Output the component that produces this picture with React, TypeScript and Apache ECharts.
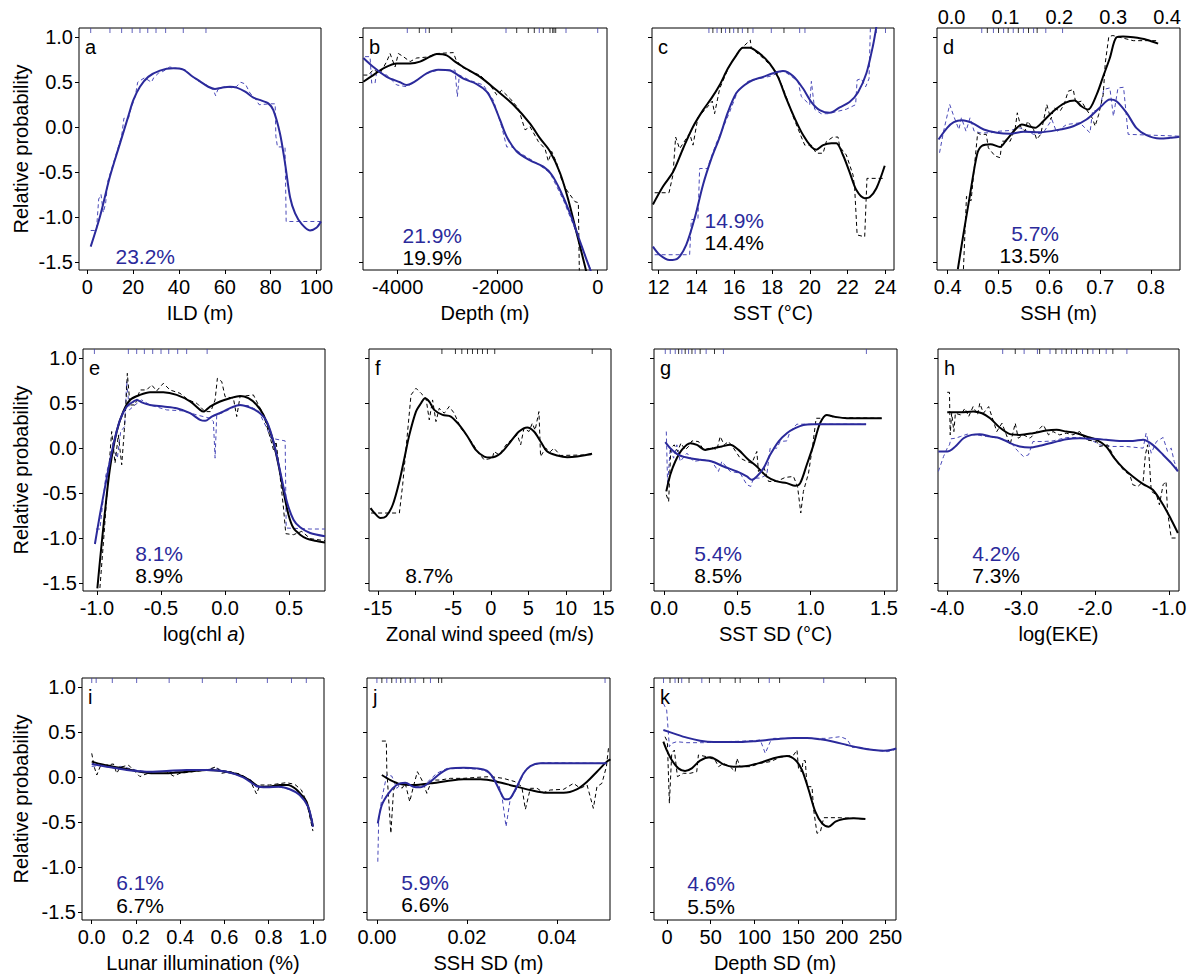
import React, { useEffect, useRef } from "react";
import * as echarts from "echarts";

const FONT = '"Liberation Sans", Arial, Helvetica, sans-serif';
const BLUE = "#2b2a9b";
const BLUE_DASH = "#4a4ab8";
const RUG_BLUE = "#3c3caa";
const BLACK = "#000000";

// ---------- tick values ----------
const yTicks = [-1.5, -1, -0.5, 0, 0.5, 1];
const aTicks = [0, 20, 40, 60, 80, 100];
const bTicks = [-4000, -2000, 0];
const cTicks = [12, 14, 16, 18, 20, 22, 24];
const dTicks = [0.4, 0.5, 0.6, 0.7, 0.8];
const dTopLabels = [0, 0.1, 0.2, 0.3, 0.4];
const eTicks = [-1, -0.5, 0, 0.5];
const fTicks = [-15, -10, -5, 0, 5, 10, 15];
const fLabels = [-15, -5, 0, 5, 10, 15];
const gTicks = [0, 0.5, 1, 1.5];
const hTicks = [-4, -3, -2, -1];
const iTicks = [0, 0.2, 0.4, 0.6, 0.8, 1];
const jTicks = [0, 0.02, 0.04];
const kTicks = [0, 50, 100, 150, 200, 250];

// ---------- a: ILD ----------
const aBlue = [[1.5,-1.33],[5.5,-1.0],[9.9,-0.55],[14.3,-0.18],[17.9,0.12],[20.1,0.3],[23,0.45],[26.6,0.56],[31.7,0.63],[37.6,0.655],[41.9,0.64],[45.6,0.57],[49.2,0.51],[52.8,0.45],[55.7,0.425],[58.7,0.44],[62.3,0.45],[65.2,0.44],[68.9,0.395],[72.5,0.33],[76.1,0.295],[79,0.265],[81.2,0.19],[84.1,-0.07],[86.3,-0.4],[88.5,-0.78],[90.7,-0.96],[93.6,-1.08],[97.2,-1.15],[100,-1.12],[102,-1.05]];
const aBlueDash = [[1.5,-1.15],[4,-1.15],[5,-0.8],[6,-0.75],[7,-0.95],[8,-0.85],[9,-0.6],[12,-0.35],[15,-0.1],[16,0.1],[18,0.1],[19,0.2],[21,0.35],[22,0.5],[25,0.55],[28,0.5],[29,0.55],[31,0.6],[33,0.62],[36,0.67],[40,0.65],[43,0.64],[45,0.58],[48,0.52],[52,0.47],[55,0.42],[56,0.35],[57,0.42],[60,0.45],[63,0.44],[65,0.45],[67,0.5],[69,0.48],[71,0.38],[73,0.33],[75,0.25],[80,0.26],[82,0.26],[82.3,-0.1],[83,-0.22],[86.3,-0.22],[86.8,-1.05],[102,-1.05]];
const aRugBlue = [1.5, 9.9, 15.0, 19.6, 23.0, 26.4, 30.0, 34.2, 41.9, 51.8];

// ---------- b: Depth ----------
const bBlack = [[-4687,0.506],[-4487,0.58],[-4287,0.655],[-4020,0.71],[-3753,0.71],[-3553,0.73],[-3353,0.785],[-3220,0.815],[-3020,0.8],[-2853,0.73],[-2687,0.67],[-2353,0.56],[-2020,0.41],[-1687,0.25],[-1353,0.04],[-1153,-0.125],[-953,-0.27],[-753,-0.51],[-587,-0.81],[-420,-1.18],[-253,-1.55],[-220,-1.63]];
const bBlackDash = [[-4687,0.58],[-4587,0.58],[-4487,0.64],[-4353,0.6],[-4220,0.73],[-4153,0.82],[-4053,0.67],[-3987,0.82],[-3887,0.785],[-3753,0.73],[-3620,0.77],[-3420,0.78],[-3220,0.82],[-2887,0.83],[-2833,0.75],[-2720,0.67],[-2553,0.62],[-2353,0.58],[-2153,0.47],[-2020,0.36],[-1920,0.41],[-1753,0.32],[-1587,0.21],[-1453,-0.03],[-1353,0.005],[-1187,-0.16],[-1053,-0.24],[-987,-0.38],[-920,-0.27],[-820,-0.4],[-720,-0.59],[-620,-0.7],[-453,-0.83],[-387,-0.84],[-367,-1.62]];
const bBlue = [[-4687,0.77],[-4487,0.67],[-4220,0.56],[-3953,0.5],[-3820,0.47],[-3653,0.51],[-3420,0.6],[-3187,0.64],[-2953,0.63],[-2687,0.54],[-2420,0.48],[-2220,0.395],[-2087,0.265],[-1953,0.08],[-1820,-0.106],[-1620,-0.27],[-1353,-0.37],[-1087,-0.44],[-920,-0.53],[-753,-0.7],[-553,-0.96],[-387,-1.22],[-220,-1.48],[-120,-1.63]];
const bBlueDash = [[-4653,0.785],[-4553,0.785],[-4520,0.49],[-4453,0.49],[-4420,0.62],[-4220,0.58],[-4020,0.47],[-3820,0.45],[-3653,0.51],[-3420,0.6],[-3153,0.64],[-2853,0.635],[-2807,0.34],[-2767,0.58],[-2553,0.52],[-2287,0.47],[-2087,0.3],[-1920,0.005],[-1820,-0.22],[-1720,-0.22],[-1487,-0.31],[-1220,-0.4],[-953,-0.51],[-687,-0.81],[-420,-1.18],[-153,-1.57]];
const bRugBlue = [-3808, -3440, -1834, -1168, -634, 0];
const bRugBlack = [-3568, -3368, -2920, -1620, -1388, -1268, -1088, -954, -900, -874, -840];

// ---------- c: SST ----------
const cBlack = [[11.7,-0.86],[12.23,-0.66],[12.76,-0.5],[13.29,-0.24],[13.82,0.005],[14.35,0.19],[14.79,0.32],[15.23,0.47],[15.67,0.655],[16.11,0.8],[16.46,0.885],[16.81,0.885],[17.34,0.82],[17.87,0.71],[18.31,0.56],[18.75,0.32],[19.2,0.098],[19.64,-0.088],[20.08,-0.22],[20.34,-0.25],[20.7,-0.2],[21.14,-0.18],[21.4,-0.18],[21.75,-0.31],[22.1,-0.5],[22.46,-0.7],[22.9,-0.79],[23.16,-0.78],[23.52,-0.68],[23.96,-0.43]];
const cBlackDash = [[11.79,-0.73],[12.55,-0.73],[12.76,-0.53],[12.9,-0.11],[13.11,-0.24],[13.64,-0.07],[13.82,-0.2],[14.08,0.11],[14.52,0.21],[14.84,0.29],[14.96,0.15],[15.23,0.43],[15.76,0.69],[16.29,0.86],[16.85,0.97],[16.9,0.88],[17.52,0.77],[18.23,0.62],[18.58,0.43],[18.75,0.34],[19.11,0.12],[19.55,-0.11],[19.73,-0.2],[20.08,-0.2],[20.34,-0.29],[20.7,-0.29],[20.87,-0.16],[21.22,-0.11],[21.49,-0.11],[21.58,-0.22],[21.93,-0.31],[22.28,-0.53],[22.37,-0.68],[22.5,-1.2],[22.9,-1.22],[23.02,-0.57],[23.96,-0.57]];
const cBlue = [[11.7,-1.33],[12.05,-1.42],[12.58,-1.48],[13.02,-1.46],[13.46,-1.31],[13.9,-1.02],[14.35,-0.64],[14.79,-0.35],[15.23,-0.11],[15.67,0.17],[16.11,0.38],[16.55,0.47],[16.99,0.525],[17.52,0.56],[18.05,0.6],[18.58,0.625],[19.11,0.57],[19.64,0.43],[20.08,0.28],[20.52,0.19],[21.05,0.16],[21.58,0.22],[22.1,0.28],[22.55,0.39],[22.99,0.6],[23.34,0.91],[23.52,1.12]];
const cBlueDash = [[11.79,-1.42],[13.64,-1.42],[13.73,-1.03],[14.08,-1.02],[14.17,-0.46],[14.61,-0.46],[14.7,-0.38],[15.05,-0.18],[15.4,-0.01],[15.76,0.17],[16.2,0.41],[16.73,0.51],[17.34,0.54],[17.96,0.57],[18.58,0.63],[18.93,0.58],[19.37,0.51],[19.55,0.34],[19.99,0.25],[20.08,0.51],[20.25,0.2],[20.6,0.15],[20.96,0.15],[21.93,0.2],[22.42,0.25],[22.5,0.525],[22.72,0.54],[22.95,0.45],[23.13,0.54],[23.2,1.1]];
const cRugBlue = [14.66, 15.09, 15.54, 15.97, 16.43, 16.99, 17.96, 19.46, 19.74, 23.52, 24.0];
const cRugBlack = [14.87, 15.32, 15.76, 16.2, 16.72, 18.63];

// ---------- d: SSH ----------
const dBlack = [[0.42,-1.58],[0.431,-1.19],[0.444,-0.75],[0.458,-0.3],[0.467,-0.21],[0.484,-0.19],[0.503,-0.22],[0.516,-0.14],[0.533,-0.026],[0.546,0.03],[0.559,0.01],[0.572,-0.007],[0.588,0.067],[0.608,0.178],[0.631,0.27],[0.65,0.296],[0.663,0.233],[0.676,0.196],[0.693,0.363],[0.706,0.567],[0.719,0.77],[0.732,1.0],[0.745,1.01],[0.765,1.0],[0.791,0.974],[0.814,0.93]];
const dBlackDash = [[0.431,-1.58],[0.437,-0.77],[0.446,-0.82],[0.459,-0.063],[0.464,-0.08],[0.476,-0.08],[0.48,-0.23],[0.493,-0.32],[0.503,-0.34],[0.507,-0.156],[0.523,-0.156],[0.533,-0.007],[0.537,0.16],[0.544,0.0],[0.552,-0.044],[0.557,0.067],[0.569,-0.026],[0.575,-0.137],[0.583,-0.08],[0.595,0.252],[0.603,0.085],[0.609,0.215],[0.621,0.178],[0.629,0.252],[0.637,0.4],[0.647,0.42],[0.652,0.27],[0.663,0.29],[0.673,0.196],[0.685,0.096],[0.69,0.011],[0.697,0.14],[0.706,0.363],[0.71,0.715],[0.717,1.01],[0.725,1.02],[0.765,0.963],[0.81,0.963]];
const dBlue = [[0.382,-0.137],[0.399,-0.007],[0.412,0.056],[0.428,0.078],[0.448,0.048],[0.471,-0.026],[0.497,-0.063],[0.523,-0.074],[0.549,-0.052],[0.582,-0.056],[0.614,-0.033],[0.647,0.011],[0.673,0.085],[0.699,0.215],[0.719,0.307],[0.732,0.289],[0.752,0.159],[0.771,-0.007],[0.791,-0.089],[0.817,-0.126],[0.837,-0.119],[0.856,-0.107]];
const dBlueDash = [[0.384,-0.285],[0.392,-0.044],[0.404,0.252],[0.412,0.122],[0.422,-0.026],[0.427,0.104],[0.436,-0.044],[0.444,0.104],[0.452,-0.044],[0.464,-0.063],[0.484,-0.063],[0.503,-0.044],[0.523,-0.037],[0.542,-0.007],[0.569,-0.08],[0.588,-0.063],[0.605,0.085],[0.614,-0.052],[0.634,0.03],[0.66,0.048],[0.68,-0.063],[0.685,0.178],[0.699,0.196],[0.707,0.42],[0.719,0.437],[0.726,0.122],[0.735,0.437],[0.746,0.444],[0.755,-0.08],[0.856,-0.1]];
const dRugBlue = [0.467, 0.49, 0.51, 0.529, 0.549, 0.569, 0.593, 0.626];
const dRugBlack = [0.478, 0.5, 0.519, 0.539, 0.559, 0.576];

// ---------- e: log(chl a) ----------
const eBlack = [[-0.997,-1.56],[-0.977,-1.26],[-0.94,-0.74],[-0.898,-0.22],[-0.846,0.185],[-0.794,0.41],[-0.742,0.537],[-0.664,0.593],[-0.586,0.622],[-0.482,0.622],[-0.378,0.593],[-0.273,0.52],[-0.195,0.426],[-0.169,0.407],[-0.117,0.463],[-0.039,0.52],[0.039,0.556],[0.117,0.581],[0.182,0.556],[0.247,0.481],[0.3,0.37],[0.365,0.13],[0.417,-0.185],[0.456,-0.48],[0.495,-0.74],[0.534,-0.89],[0.586,-0.963],[0.638,-1.007],[0.7,-1.03],[0.78,-1.05]];
const eBlackDash = [[-0.977,-1.556],[-0.945,-0.963],[-0.911,-0.296],[-0.885,0.185],[-0.859,-0.167],[-0.833,0.148],[-0.807,-0.185],[-0.789,0.148],[-0.773,0.519],[-0.763,0.833],[-0.742,0.481],[-0.703,0.481],[-0.664,0.648],[-0.612,0.648],[-0.573,0.704],[-0.534,0.637],[-0.482,0.722],[-0.43,0.648],[-0.352,0.611],[-0.286,0.537],[-0.221,0.5],[-0.156,0.407],[-0.112,0.407],[-0.078,0.537],[-0.06,0.778],[-0.026,0.741],[0.0,0.574],[0.065,0.556],[0.091,0.352],[0.117,0.574],[0.221,0.593],[0.3,0.37],[0.346,0.148],[0.378,-0.019],[0.398,0.074],[0.424,-0.241],[0.456,-0.667],[0.474,-0.952],[0.534,-0.963],[0.599,-0.926],[0.664,-1.007],[0.78,-1.03]];
const eBlue = [[-1.016,-1.067],[-0.977,-0.741],[-0.924,-0.333],[-0.872,0.037],[-0.82,0.315],[-0.768,0.463],[-0.716,0.519],[-0.69,0.537],[-0.651,0.511],[-0.586,0.481],[-0.482,0.463],[-0.378,0.444],[-0.273,0.389],[-0.195,0.315],[-0.156,0.304],[-0.104,0.352],[-0.026,0.4],[0.065,0.463],[0.117,0.481],[0.195,0.452],[0.273,0.389],[0.326,0.296],[0.378,0.074],[0.43,-0.259],[0.482,-0.593],[0.534,-0.796],[0.586,-0.881],[0.664,-0.944],[0.78,-0.98]];
const eBlueDash = [[-1.008,-0.9],[-0.977,-0.9],[-0.93,-0.296],[-0.872,0.0],[-0.841,-0.111],[-0.815,0.185],[-0.784,0.241],[-0.768,0.741],[-0.747,0.426],[-0.703,0.481],[-0.651,0.537],[-0.586,0.481],[-0.456,0.426],[-0.326,0.415],[-0.221,0.37],[-0.117,0.333],[-0.091,0.296],[-0.078,-0.111],[-0.065,0.37],[0.0,0.407],[0.091,0.474],[0.182,0.474],[0.26,0.415],[0.326,0.222],[0.357,0.111],[0.469,0.081],[0.477,-0.889],[0.664,-0.9],[0.78,-0.9]];
const eRugBlue = [-1.02, -0.755, -0.69, -0.63, -0.565, -0.5, -0.44, -0.37, -0.3, -0.14];

// ---------- f: zonal wind ----------
const fBlack = [[-16.0,-0.667],[-15.47,-0.722],[-14.68,-0.778],[-13.93,-0.759],[-13.04,-0.63],[-12.16,-0.37],[-11.49,-0.111],[-10.83,0.148],[-9.95,0.407],[-9.28,0.5],[-8.75,0.556],[-8.18,0.519],[-7.52,0.426],[-6.41,0.37],[-5.31,0.352],[-4.2,0.259],[-3.09,0.13],[-1.99,-0.019],[-0.88,-0.093],[0.0,-0.104],[1.33,-0.056],[2.65,0.074],[3.76,0.185],[4.86,0.23],[5.75,0.185],[6.63,0.074],[7.52,-0.037],[8.84,-0.081],[10.17,-0.1],[11.49,-0.093],[12.82,-0.074],[13.48,-0.063]];
const fBlackDash = [[-15.92,-0.722],[-12.16,-0.722],[-11.72,-0.407],[-10.61,0.593],[-9.95,0.667],[-9.28,0.611],[-8.62,0.556],[-8.18,0.315],[-7.74,0.537],[-7.29,0.296],[-6.85,0.444],[-6.19,0.389],[-5.53,0.463],[-4.86,0.389],[-3.98,0.222],[-3.09,0.13],[-2.43,0.056],[-1.77,-0.037],[-0.88,-0.13],[0.22,-0.111],[0.44,-0.037],[1.1,-0.074],[2.21,0.056],[3.54,0.148],[3.98,0.037],[4.42,0.222],[5.08,0.185],[5.53,0.278],[5.9,0.2],[6.41,0.407],[6.63,-0.093],[7.29,0.0],[7.96,-0.037],[8.4,0.0],[9.28,-0.081],[13.48,-0.074]];
const fRugBlack = [-6.5, -4.7, -3.85, -3.09, -2.43, -1.76, -1.1, -0.44, 0.53, 13.5];

// ---------- g: SST SD ----------
const gBlack = [[0.014,-0.481],[0.041,-0.296],[0.075,-0.148],[0.12,-0.019],[0.177,0.056],[0.223,0.037],[0.28,-0.019],[0.337,0.0],[0.393,0.019],[0.45,0.037],[0.507,-0.019],[0.564,-0.111],[0.632,-0.204],[0.7,-0.315],[0.769,-0.37],[0.837,-0.389],[0.894,-0.419],[0.928,-0.389],[0.973,-0.185],[1.019,0.037],[1.064,0.278],[1.11,0.37],[1.155,0.352],[1.246,0.333],[1.382,0.333],[1.485,0.333]];
const gBlackDash = [[0.014,-0.519],[0.03,-0.593],[0.045,0.0],[0.068,0.037],[0.091,-0.037],[0.114,0.056],[0.143,-0.019],[0.166,0.019],[0.189,0.081],[0.234,0.074],[0.268,-0.019],[0.325,0.007],[0.359,-0.019],[0.382,0.13],[0.409,0.037],[0.439,0.074],[0.473,0.0],[0.518,-0.111],[0.564,-0.148],[0.598,-0.167],[0.632,-0.037],[0.643,-0.259],[0.682,-0.222],[0.712,-0.37],[0.769,-0.37],[0.825,-0.326],[0.882,-0.315],[0.91,-0.426],[0.932,-0.722],[0.95,-0.481],[0.985,-0.278],[1.014,0.037],[1.037,0.333],[1.069,0.333],[1.114,0.378],[1.155,0.341],[1.485,0.333]];
const gBlue = [[0.007,0.067],[0.041,0.0],[0.098,-0.074],[0.155,-0.104],[0.246,-0.13],[0.325,-0.148],[0.405,-0.204],[0.496,-0.259],[0.564,-0.315],[0.598,-0.352],[0.632,-0.315],[0.678,-0.222],[0.723,-0.074],[0.78,0.074],[0.837,0.167],[0.894,0.222],[0.95,0.259],[1.019,0.267],[1.11,0.267],[1.291,0.267],[1.378,0.267]];
const gBlueDash = [[0.014,0.185],[0.023,-0.407],[0.041,0.0],[0.064,-0.111],[0.086,0.037],[0.109,-0.148],[0.155,-0.056],[0.2,-0.148],[0.268,-0.13],[0.325,-0.148],[0.37,-0.259],[0.393,-0.148],[0.45,-0.259],[0.518,-0.278],[0.564,-0.407],[0.591,-0.426],[0.609,-0.333],[0.655,-0.333],[0.7,-0.296],[0.723,0.0],[0.769,0.0],[0.791,0.074],[0.837,0.081],[0.859,0.185],[0.905,0.267],[1.378,0.267]];
const gRugBlue = [0.007, 0.041, 0.075, 0.12, 0.166, 0.211, 0.286, 0.404, 1.38];
const gRugBlack = [0.098, 0.143, 0.189, 0.245, 0.343];

// ---------- h: log(EKE) ----------
const hBlack = [[-4.0,0.4],[-3.82,0.4],[-3.65,0.407],[-3.53,0.389],[-3.42,0.333],[-3.29,0.23],[-3.15,0.156],[-3.02,0.148],[-2.84,0.167],[-2.66,0.196],[-2.52,0.204],[-2.39,0.185],[-2.25,0.167],[-2.12,0.13],[-1.98,0.093],[-1.85,0.019],[-1.74,-0.111],[-1.62,-0.222],[-1.49,-0.315],[-1.35,-0.4],[-1.22,-0.463],[-1.08,-0.63],[-0.97,-0.796],[-0.88,-0.944]];
const hBlackDash = [[-4.0,0.622],[-3.97,0.622],[-3.96,0.148],[-3.94,0.389],[-3.91,0.185],[-3.89,0.389],[-3.82,0.37],[-3.76,0.444],[-3.71,0.352],[-3.65,0.463],[-3.59,0.37],[-3.56,0.5],[-3.51,0.389],[-3.44,0.463],[-3.33,0.185],[-3.26,0.278],[-3.2,0.148],[-3.15,0.037],[-3.08,0.278],[-3.04,0.111],[-2.97,0.148],[-2.88,0.111],[-2.79,0.185],[-2.7,0.259],[-2.63,0.148],[-2.57,0.185],[-2.48,0.148],[-2.39,0.167],[-2.3,0.148],[-2.21,0.185],[-2.12,0.093],[-1.98,0.074],[-1.94,0.019],[-1.83,0.037],[-1.71,-0.148],[-1.6,-0.259],[-1.53,-0.296],[-1.49,-0.407],[-1.42,-0.426],[-1.35,-0.37],[-1.32,-0.074],[-1.29,0.037],[-1.27,-0.1],[-1.24,-0.481],[-1.17,-0.519],[-1.13,-0.63],[-1.08,-0.407],[-1.04,-0.37],[-1.02,-0.704],[-0.97,-1.0],[-0.88,-1.0]];
const hBlue = [[-4.12,-0.037],[-4.0,-0.037],[-3.89,0.019],[-3.78,0.111],[-3.67,0.148],[-3.56,0.156],[-3.42,0.13],[-3.29,0.111],[-3.15,0.056],[-3.02,0.019],[-2.88,0.007],[-2.75,0.026],[-2.57,0.063],[-2.39,0.1],[-2.21,0.111],[-2.03,0.104],[-1.85,0.093],[-1.67,0.081],[-1.49,0.081],[-1.35,0.093],[-1.22,0.037],[-1.08,-0.074],[-0.97,-0.167],[-0.88,-0.259]];
const hBlueDash = [[-4.12,-0.259],[-4.05,-0.093],[-4.0,0.0],[-3.97,0.037],[-3.95,0.104],[-3.89,0.111],[-3.82,0.13],[-3.73,0.156],[-3.6,0.148],[-3.47,0.13],[-3.29,0.111],[-3.15,0.074],[-3.06,-0.019],[-2.97,-0.093],[-2.9,-0.074],[-2.84,0.074],[-2.7,0.074],[-2.57,0.081],[-2.39,0.119],[-2.21,0.119],[-2.03,0.081],[-1.94,0.037],[-1.76,0.019],[-1.58,0.019],[-1.35,0.0],[-1.31,0.167],[-1.24,-0.056],[-1.17,0.074],[-1.08,0.119],[-1.02,-0.037],[-0.97,0.0],[-0.93,-0.148],[-0.88,-0.259]];
const hRugBlue = [-3.25, -2.96, -2.78, -2.61, -2.45, -2.32, -2.17, -2.03, -1.85, -1.57];
const hRugBlack = [-3.08, -2.75, -2.53, -2.39, -2.25, -2.1, -1.94, -1.76];

// ---------- i: lunar illumination ----------
const iBlack = [[0.0,0.173],[0.038,0.147],[0.098,0.117],[0.158,0.091],[0.218,0.061],[0.278,0.043],[0.339,0.043],[0.399,0.054],[0.459,0.069],[0.519,0.08],[0.579,0.072],[0.64,0.043],[0.685,0.006],[0.722,-0.05],[0.76,-0.106],[0.805,-0.106],[0.85,-0.087],[0.888,-0.087],[0.918,-0.124],[0.948,-0.198],[0.971,-0.273],[1.0,-0.55]];
const iBlackDash = [[0.0,0.265],[0.012,0.109],[0.023,0.024],[0.038,0.117],[0.068,0.135],[0.098,0.147],[0.113,0.043],[0.128,0.109],[0.166,0.135],[0.188,0.08],[0.218,0.006],[0.233,0.024],[0.278,0.061],[0.339,0.061],[0.369,0.013],[0.399,0.043],[0.459,0.061],[0.519,0.08],[0.564,0.117],[0.587,0.043],[0.625,0.061],[0.67,0.035],[0.715,-0.032],[0.745,-0.187],[0.76,-0.087],[0.805,-0.087],[0.88,-0.061],[0.918,-0.08],[0.948,-0.143],[0.971,-0.273],[1.0,-0.6]];
const iBlue = [[0.0,0.147],[0.068,0.117],[0.158,0.08],[0.248,0.061],[0.339,0.069],[0.429,0.08],[0.519,0.08],[0.609,0.061],[0.685,-0.002],[0.745,-0.098],[0.79,-0.113],[0.85,-0.106],[0.895,-0.135],[0.94,-0.198],[0.978,-0.328],[1.0,-0.55]];
const iBlueDash = [[0.0,0.12],[0.04,0.13],[0.1,0.1],[0.13,0.12],[0.2,0.08],[0.25,0.06],[0.3,0.06],[0.4,0.07],[0.5,0.08],[0.56,0.1],[0.6,0.07],[0.66,0.04],[0.72,-0.03],[0.75,-0.13],[0.77,-0.1],[0.82,-0.1],[0.87,-0.12],[0.9,-0.14],[0.95,-0.2],[0.98,-0.35],[1.0,-0.5]];
const iRugBlue = [0.0, 0.02, 0.093, 0.203, 0.35, 0.5, 0.654, 0.794, 0.903, 0.97];

// ---------- j: SSH SD ----------
const jBlack = [[0.0011,0.024],[0.003,-0.032],[0.0052,-0.076],[0.0081,-0.087],[0.0119,-0.069],[0.0156,-0.043],[0.0193,-0.024],[0.023,-0.024],[0.0267,-0.05],[0.0304,-0.098],[0.0341,-0.143],[0.0378,-0.173],[0.0415,-0.173],[0.0444,-0.135],[0.0467,-0.05],[0.0489,0.061],[0.0511,0.173],[0.0519,0.198]];
const jBlackDash = [[0.0011,0.402],[0.0021,0.402],[0.0022,0.08],[0.0031,-0.625],[0.0037,-0.143],[0.0044,-0.069],[0.0056,-0.124],[0.0063,-0.069],[0.0073,-0.273],[0.0081,-0.106],[0.009,0.061],[0.01,-0.032],[0.0111,-0.18],[0.0122,-0.032],[0.0141,-0.032],[0.0163,-0.013],[0.0193,-0.013],[0.0222,-0.002],[0.0252,0.006],[0.0281,-0.013],[0.0307,-0.05],[0.0322,-0.106],[0.033,-0.358],[0.0341,-0.124],[0.0356,-0.124],[0.037,-0.173],[0.0385,-0.143],[0.0415,-0.135],[0.0437,-0.069],[0.0452,-0.124],[0.0467,-0.087],[0.0481,-0.347],[0.0489,-0.106],[0.05,-0.069],[0.051,0.117],[0.0515,0.339]];
const jBlue = [[0.0002,-0.514],[0.0011,-0.31],[0.0026,-0.18],[0.0044,-0.087],[0.0063,-0.061],[0.0081,-0.106],[0.0096,-0.113],[0.0119,-0.05],[0.0141,0.043],[0.0163,0.098],[0.0193,0.106],[0.0222,0.098],[0.0244,0.072],[0.0259,-0.013],[0.0274,-0.161],[0.0285,-0.247],[0.0296,-0.236],[0.0311,-0.106],[0.0326,0.043],[0.0341,0.124],[0.0363,0.154],[0.04,0.154],[0.0459,0.154],[0.0511,0.154]];
const jBlueDash = [[0.0002,-0.941],[0.0004,-0.477],[0.0011,-0.236],[0.0022,0.024],[0.0033,0.013],[0.0044,-0.124],[0.0056,-0.069],[0.0074,-0.087],[0.0096,-0.106],[0.0111,-0.061],[0.0133,0.043],[0.0156,0.098],[0.0193,0.098],[0.023,0.087],[0.0252,0.043],[0.027,-0.069],[0.0278,-0.217],[0.0287,-0.551],[0.0296,-0.254],[0.0311,-0.124],[0.033,0.08],[0.0344,0.135],[0.037,0.161],[0.0511,0.154]];
const jRugBlue = [0.0, 0.0022, 0.0043, 0.0063, 0.0085, 0.0119, 0.0507];
const jRugBlack = [0.0011, 0.0033, 0.0053, 0.0074, 0.0104, 0.0137, 0.0144];

// ---------- k: Depth SD ----------
const kBlack = [[-4.2,0.395],[-0.4,0.302],[5.4,0.191],[13,0.098],[20.6,0.069],[28.3,0.098],[37.8,0.184],[49.3,0.221],[57,0.191],[64.6,0.143],[76.1,0.117],[91.4,0.124],[106.7,0.161],[121.9,0.21],[137.2,0.236],[146.8,0.191],[154.4,0.08],[162.1,-0.143],[169.7,-0.384],[177.4,-0.514],[185,-0.551],[192.7,-0.495],[202.2,-0.466],[213.7,-0.458],[227,-0.466]];
const kBlackDash = [[-2.3,0.45],[0.4,0.395],[2.7,-0.291],[5.4,0.265],[8.4,0.302],[11.9,0.006],[18.7,0.043],[26.4,0.043],[34,0.061],[35.9,0.247],[45.5,0.228],[55,0.191],[58.9,0.117],[64.6,0.154],[72.2,0.117],[78,0.061],[79.9,0.21],[83.7,0.117],[95.2,0.117],[106.7,0.154],[118.1,0.173],[129.6,0.221],[144.9,0.247],[148.7,0.302],[150.6,0.08],[154.4,0.061],[155.6,0.184],[158.2,0.184],[160.2,-0.106],[165.9,-0.106],[167.8,-0.365],[171.6,-0.625],[175.5,-0.607],[179.3,-0.451],[194.6,-0.451],[213.7,-0.458],[227,-0.466]];
const kBlue = [[-4.2,0.525],[7.3,0.488],[22.6,0.44],[37.8,0.406],[53.1,0.391],[68.4,0.391],[83.7,0.391],[99,0.399],[114.3,0.414],[129.6,0.429],[144.9,0.436],[160.2,0.436],[175.5,0.421],[190.7,0.395],[206,0.358],[221.3,0.325],[236.6,0.302],[248.1,0.295],[255.7,0.302],[262.2,0.321]];
const kBlueDash = [[-4.2,0.822],[-0.4,0.748],[2.7,0.339],[5.4,0.376],[11.1,0.395],[22.6,0.384],[41.7,0.384],[60.8,0.395],[79.9,0.399],[99,0.406],[106.7,0.414],[112.4,0.265],[118.1,0.395],[121.9,0.432],[137.2,0.432],[160.2,0.432],[183.1,0.432],[198.4,0.451],[206,0.421],[211.8,0.332],[221.3,0.332],[236.6,0.302],[251.9,0.284],[262.2,0.31]];
const kRugBlue = [-4, 9.2, 16.8, 39.8, 117, 179.3];
const kRugBlack = [3.4, 13, 25.2, 48.5, 60.8, 78, 83.7, 104.7, 128.8, 227];

// ---------- panel definitions ----------
const panels: any[] = [
  { letter: "a", xName: "ILD (m)", ticks: aTicks, labels: aTicks, dec: 0, blue: aBlue, blueDash: aBlueDash, black: null, blackDash: null, rugBlue: aRugBlue, rugBlack: [], pctBlue: "23.2%", pctBlack: null },
  { letter: "b", xName: "Depth (m)", ticks: bTicks, labels: bTicks, dec: 0, blue: bBlue, blueDash: bBlueDash, black: bBlack, blackDash: bBlackDash, rugBlue: bRugBlue, rugBlack: bRugBlack, pctBlue: "21.9%", pctBlack: "19.9%" },
  { letter: "c", xName: "SST (°C)", ticks: cTicks, labels: cTicks, dec: 0, blue: cBlue, blueDash: cBlueDash, black: cBlack, blackDash: cBlackDash, rugBlue: cRugBlue, rugBlack: cRugBlack, pctBlue: "14.9%", pctBlack: "14.4%" },
  { letter: "d", xName: "SSH (m)", ticks: dTicks, labels: dTicks, dec: 1, blue: dBlue, blueDash: dBlueDash, black: dBlack, blackDash: dBlackDash, rugBlue: dRugBlue, rugBlack: dRugBlack, pctBlue: "5.7%", pctBlack: "13.5%" },
  { letter: "e", xName: "log(chl {it|a})", ticks: eTicks, labels: eTicks, dec: 1, blue: eBlue, blueDash: eBlueDash, black: eBlack, blackDash: eBlackDash, rugBlue: eRugBlue, rugBlack: [], pctBlue: "8.1%", pctBlack: "8.9%" },
  { letter: "f", xName: "Zonal wind speed (m/s)", ticks: fTicks, labels: fLabels, dec: 0, blue: null, blueDash: null, black: fBlack, blackDash: fBlackDash, rugBlue: [], rugBlack: fRugBlack, pctBlue: null, pctBlack: "8.7%" },
  { letter: "g", xName: "SST SD (°C)", ticks: gTicks, labels: gTicks, dec: 1, blue: gBlue, blueDash: gBlueDash, black: gBlack, blackDash: gBlackDash, rugBlue: gRugBlue, rugBlack: gRugBlack, pctBlue: "5.4%", pctBlack: "8.5%" },
  { letter: "h", xName: "log(EKE)", ticks: hTicks, labels: hTicks, dec: 1, blue: hBlue, blueDash: hBlueDash, black: hBlack, blackDash: hBlackDash, rugBlue: hRugBlue, rugBlack: hRugBlack, pctBlue: "4.2%", pctBlack: "7.3%" },
  { letter: "i", xName: "Lunar illumination (%)", ticks: iTicks, labels: iTicks, dec: 1, blue: iBlue, blueDash: iBlueDash, black: iBlack, blackDash: iBlackDash, rugBlue: iRugBlue, rugBlack: [], pctBlue: "6.1%", pctBlack: "6.7%" },
  { letter: "j", xName: "SSH SD (m)", ticks: jTicks, labels: jTicks, dec: 2, blue: jBlue, blueDash: jBlueDash, black: jBlack, blackDash: jBlackDash, rugBlue: jRugBlue, rugBlack: jRugBlack, pctBlue: "5.9%", pctBlack: "6.6%" },
  { letter: "k", xName: "Depth SD (m)", ticks: kTicks, labels: kTicks, dec: 0, blue: kBlue, blueDash: kBlueDash, black: kBlack, blackDash: kBlackDash, rugBlue: kRugBlue, rugBlack: kRugBlack, pctBlue: "4.6%", pctBlack: "5.5%" },
];

// ---------- layout (pixels & axis ranges) ----------
const layout = [
  { left: 79, top: 28, width: 242, xMin: -3.6, xMax: 102, pctRight: 175, pctBlueY: 256, pctBlackY: 0, ylab: true },
  { left: 363, top: 28, width: 244, xMin: -4694, xMax: 186, pctRight: 462, pctBlueY: 235, pctBlackY: 257, ylab: false },
  { left: 652, top: 28, width: 242, xMin: 11.65, xMax: 24.45, pctRight: 764, pctBlueY: 220, pctBlackY: 242, ylab: false },
  { left: 937, top: 28, width: 243, xMin: 0.379, xMax: 0.857, pctRight: 1059, pctBlueY: 233, pctBlackY: 255, ylab: false },
  { left: 83, top: 349, width: 242, xMin: -1.109, xMax: 0.78, pctRight: 183, pctBlueY: 553, pctBlackY: 575, ylab: true },
  { left: 369, top: 349, width: 242, xMin: -16.2, xMax: 16.0, pctRight: 453, pctBlueY: 0, pctBlackY: 575, ylab: false },
  { left: 654, top: 349, width: 243, xMin: -0.07, xMax: 1.589, pctRight: 742, pctBlueY: 553, pctBlackY: 575, ylab: false },
  { left: 938, top: 349, width: 241, xMin: -4.125, xMax: -0.865, pctRight: 1020, pctBlueY: 553, pctBlackY: 575, ylab: false },
  { left: 82, top: 678, width: 242, xMin: -0.044, xMax: 1.05, pctRight: 164, pctBlueY: 882, pctBlackY: 905, ylab: true },
  { left: 367, top: 678, width: 243, xMin: -0.0022, xMax: 0.0518, pctRight: 449, pctBlueY: 882, pctBlackY: 904, ylab: false },
  { left: 654, top: 678, width: 242, xMin: -14.9, xMax: 262, pctRight: 735, pctBlueY: 883, pctBlackY: 906, ylab: false },
];
const GRID_H = 242;
const Y_MIN = -1.59;
const Y_MAX = 1.104;
const RUG_Y = 1.076;

const TICK_FS = 20;
const NAME_FS = 20;
const PCT_FS = 21;

function buildOption() {
  const grid: any[] = [];
  const xAxis: any[] = [];
  const yAxis: any[] = [];
  const series: any[] = [];
  const graphic: any[] = [];

  panels.forEach((p, i) => {
    const L = layout[i];
    grid.push({
      left: L.left, top: L.top, width: L.width, height: GRID_H,
      show: true, borderColor: "#000", borderWidth: 1, backgroundColor: "transparent",
    });
    xAxis.push({
      type: "value", gridIndex: i, min: L.xMin, max: L.xMax, position: "bottom",
      axisLine: { show: false, onZero: false },
      splitLine: { show: false },
      axisTick: { show: true, inside: false, length: 4, customValues: p.ticks, lineStyle: { color: "#000", width: 1 } },
      axisLabel: {
        customValues: p.labels, margin: 7, color: "#000", fontSize: TICK_FS, fontFamily: FONT,
        formatter: (v: number) => v.toFixed(p.dec),
      },
      name: p.xName, nameLocation: "middle", nameGap: 33,
      nameTextStyle: { color: "#000", fontSize: NAME_FS, fontFamily: FONT, rich: { it: { fontStyle: "italic", fontSize: NAME_FS, fontFamily: FONT, color: "#000" } } },
    });
    yAxis.push({
      type: "value", gridIndex: i, min: Y_MIN, max: Y_MAX, position: "left",
      axisLine: { show: false, onZero: false },
      splitLine: { show: false },
      axisTick: { show: true, inside: false, length: 4, customValues: yTicks, lineStyle: { color: "#000", width: 1 } },
      axisLabel: {
        show: L.ylab, customValues: yTicks, margin: 6, color: "#000", fontSize: TICK_FS, fontFamily: FONT,
        formatter: (v: number) => v.toFixed(1),
      },
      name: L.ylab ? "Relative probability" : "",
      nameLocation: "middle", nameGap: L.left - 31,
      nameTextStyle: { color: "#000", fontSize: NAME_FS, fontFamily: FONT },
    });

    const addLine = (data: number[][] | null, color: string, dashed: boolean, z: number) => {
      if (!data) return;
      series.push({
        type: "line", xAxisIndex: i, yAxisIndex: i, data, showSymbol: false, symbol: "none",
        smooth: dashed ? false : 0.3, clip: true, silent: true, z,
        lineStyle: { color, width: dashed ? 1 : 2, type: dashed ? [4, 3] : "solid" },
      });
    };
    addLine(p.blueDash, BLUE_DASH, true, 2);
    addLine(p.blackDash, BLACK, true, 2);
    addLine(p.black, BLACK, false, 3);
    addLine(p.blue, BLUE, false, 4);

    const addRug = (vals: number[], color: string) => {
      if (!vals || !vals.length) return;
      series.push({
        type: "scatter", xAxisIndex: i, yAxisIndex: i, silent: true, z: 5,
        data: vals.map((v) => [v, RUG_Y]), symbol: "rect", symbolSize: [1, 5],
        itemStyle: { color },
      });
    };
    addRug(p.rugBlack, BLACK);
    addRug(p.rugBlue, RUG_BLUE);

    graphic.push({
      type: "text", x: L.left + 6, y: L.top + 19, silent: true,
      style: { text: p.letter, fill: "#000", font: `20px ${FONT}`, align: "left", verticalAlign: "middle", textAlign: "left", textVerticalAlign: "middle" },
    });
    if (p.pctBlue) {
      graphic.push({
        type: "text", x: L.pctRight, y: L.pctBlueY, silent: true,
        style: { text: p.pctBlue, fill: BLUE, font: `${PCT_FS}px ${FONT}`, align: "right", verticalAlign: "middle", textAlign: "right", textVerticalAlign: "middle" },
      });
    }
    if (p.pctBlack) {
      graphic.push({
        type: "text", x: L.pctRight, y: L.pctBlackY, silent: true,
        style: { text: p.pctBlack, fill: "#000", font: `${PCT_FS}px ${FONT}`, align: "right", verticalAlign: "middle", textAlign: "right", textVerticalAlign: "middle" },
      });
    }
  });

  // secondary top axis for panel d
  xAxis.push({
    type: "value", gridIndex: 3, min: -0.027, max: 0.424, position: "top",
    axisLine: { show: false, onZero: false }, splitLine: { show: false },
    axisTick: { show: false },
    axisLabel: {
      customValues: dTopLabels, margin: 1, color: "#000", fontSize: TICK_FS, fontFamily: FONT,
      formatter: (v: number) => v.toFixed(1),
    },
  });

  return {
    animation: false,
    backgroundColor: "#ffffff",
    textStyle: { fontFamily: FONT },
    grid, xAxis, yAxis, series, graphic,
  };
}

export default function App() {
  const ref = useRef<HTMLDivElement>(null);
  useEffect(() => {
    if (!ref.current) return;
    const chart = echarts.init(ref.current, null, { renderer: "svg" });
    chart.setOption(buildOption() as any);
    return () => chart.dispose();
  }, []);
  return (
    <div
      ref={ref}
      style={{ position: "fixed", left: 0, top: 0, width: 1193, height: 980, background: "#fff" }}
    />
  );
}
